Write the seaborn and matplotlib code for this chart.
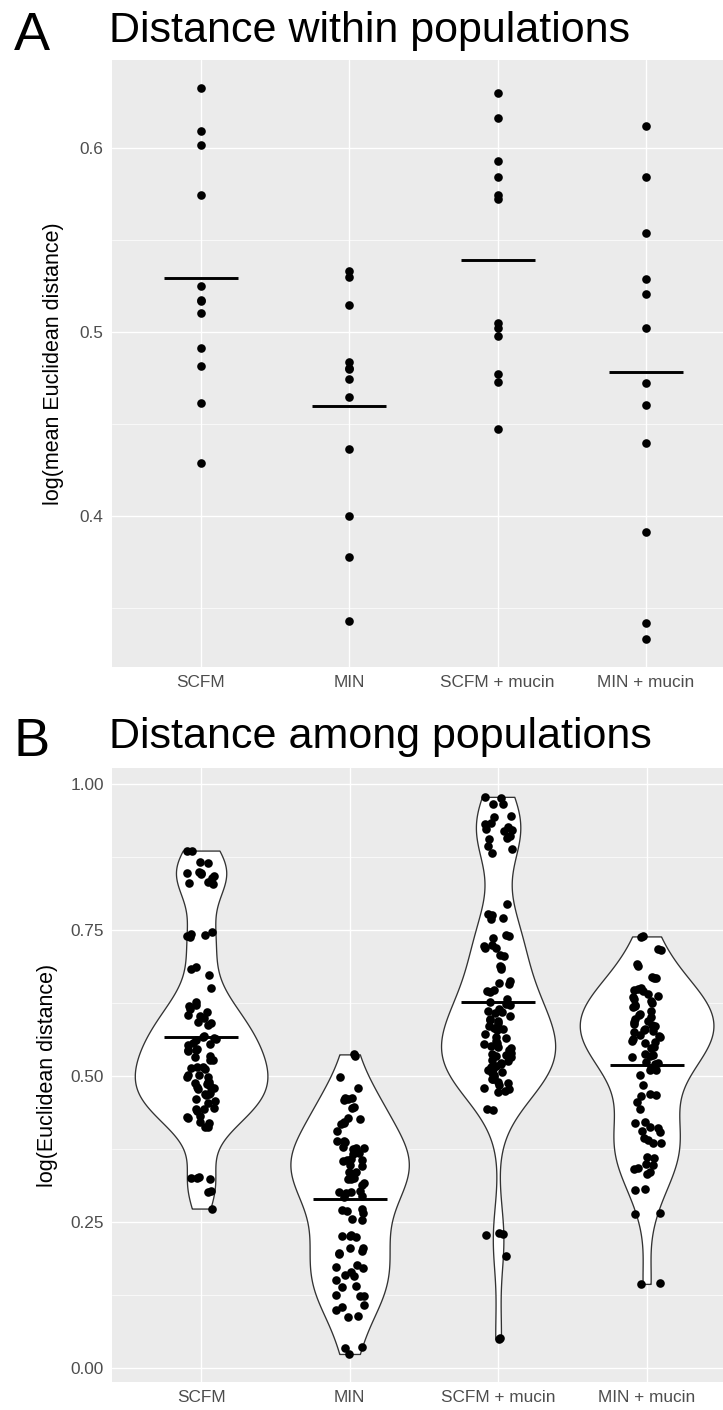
import numpy as np
import pandas as pd
import matplotlib
matplotlib.use("Agg")
import matplotlib.pyplot as plt
from matplotlib.ticker import FixedLocator
import seaborn as sns

# ---- data -------------------------------------------------------------
categories = ["SCFM", "MIN", "SCFM + mucin", "MIN + mucin"]

# log(mean Euclidean distance) within populations, one value per population
within_scfm = [0.6325, 0.6094, 0.6014, 0.5746, 0.5251, 0.5173, 0.5168, 0.5102,
               0.4914, 0.4813, 0.4615, 0.4287]
within_min = [0.5333, 0.5296, 0.5147, 0.4839, 0.4806, 0.4800, 0.4742, 0.4645,
              0.4365, 0.4002, 0.3776, 0.3428]
within_scfm_mucin = [0.6299, 0.6165, 0.5927, 0.5840, 0.5746, 0.5720, 0.5046, 0.5020,
                     0.4978, 0.4773, 0.4728, 0.4474]
within_min_mucin = [0.6122, 0.5840, 0.5538, 0.5286, 0.5204, 0.5020, 0.4721, 0.4601,
                    0.4396, 0.3910, 0.3418, 0.3333]

# log(Euclidean distance) among populations, pairwise
among_scfm = [
    0.886, 0.885, 0.866, 0.865, 0.849, 0.848, 0.847, 0.846, 0.842, 0.839, 0.832, 0.830, 0.829,
    0.746, 0.744, 0.741, 0.739, 0.738, 0.686, 0.684, 0.673, 0.650,
    0.626, 0.622, 0.615, 0.620, 0.610, 0.600, 0.605, 0.602, 0.592, 0.590,
    0.588, 0.568, 0.566, 0.565, 0.563, 0.562, 0.557, 0.555, 0.553, 0.546,
    0.544, 0.545, 0.542, 0.532, 0.535, 0.528, 0.528, 0.515, 0.512, 0.516,
    0.513, 0.502, 0.498, 0.501, 0.499, 0.490, 0.488, 0.486, 0.489, 0.480,
    0.478, 0.481, 0.483, 0.470, 0.468, 0.471, 0.469, 0.458, 0.460, 0.454,
    0.446, 0.443, 0.443, 0.440, 0.432, 0.428, 0.430, 0.420, 0.421, 0.413, 0.412,
    0.327, 0.326, 0.325, 0.324, 0.303, 0.301, 0.273,
]
among_min = [
    0.537, 0.535, 0.499, 0.480, 0.463, 0.460, 0.459, 0.462, 0.447, 0.446,
    0.420, 0.418, 0.426, 0.421, 0.428, 0.406,
    0.389, 0.388, 0.387, 0.377, 0.376, 0.375, 0.378, 0.369, 0.367, 0.368,
    0.358, 0.356, 0.357, 0.355, 0.348, 0.346, 0.336, 0.335, 0.334, 0.325,
    0.323, 0.324, 0.316, 0.314, 0.303, 0.302, 0.301, 0.300, 0.294, 0.292,
    0.272, 0.270, 0.268, 0.266, 0.255, 0.253, 0.227, 0.226, 0.225, 0.226,
    0.205, 0.195, 0.197, 0.201, 0.206, 0.172, 0.160, 0.173, 0.165, 0.177,
    0.158, 0.150, 0.138, 0.140, 0.125, 0.124, 0.123, 0.105, 0.100, 0.108,
    0.089, 0.087, 0.024, 0.036, 0.035,
]
among_scfm_mucin = [
    0.978, 0.976, 0.966, 0.965, 0.946, 0.944, 0.933, 0.931, 0.927, 0.923,
    0.921, 0.919, 0.911, 0.908, 0.905, 0.893, 0.889, 0.882,
    0.795, 0.777, 0.775, 0.771, 0.769, 0.742, 0.740, 0.737, 0.724, 0.722,
    0.720, 0.719, 0.707, 0.705, 0.688, 0.686, 0.683, 0.663, 0.660, 0.657,
    0.647, 0.645, 0.643, 0.632,
    0.626, 0.623, 0.621, 0.615, 0.612, 0.610, 0.608, 0.603, 0.598, 0.596,
    0.594, 0.590, 0.585, 0.582, 0.580, 0.578, 0.572, 0.566, 0.560, 0.557,
    0.555, 0.552, 0.548, 0.545, 0.540, 0.536, 0.534, 0.532, 0.528, 0.522,
    0.520, 0.517, 0.515, 0.512, 0.507, 0.505, 0.502, 0.499, 0.494, 0.488,
    0.485, 0.480, 0.474, 0.472, 0.565, 0.550, 0.538, 0.525, 0.510, 0.495,
    0.490, 0.478,
    0.443, 0.441, 0.231, 0.229, 0.228, 0.191, 0.052, 0.050,
]
among_min_mucin = [
    0.739, 0.738, 0.717, 0.715, 0.691, 0.689, 0.670, 0.668, 0.667, 0.651,
    0.649, 0.647, 0.645, 0.641, 0.637, 0.635, 0.632, 0.628, 0.625, 0.621,
    0.620, 0.618, 0.612, 0.607, 0.605, 0.601, 0.597, 0.595, 0.592, 0.589,
    0.587, 0.585, 0.581, 0.579, 0.577, 0.575, 0.570, 0.568, 0.566, 0.563,
    0.560, 0.558, 0.556, 0.550, 0.548, 0.537, 0.536, 0.535, 0.533, 0.524,
    0.522, 0.520, 0.513, 0.511, 0.510, 0.501, 0.484, 0.469, 0.467, 0.466,
    0.455, 0.443, 0.422, 0.420, 0.413, 0.411, 0.406, 0.404, 0.393, 0.391,
    0.386, 0.385, 0.361, 0.359, 0.350, 0.348, 0.342, 0.340, 0.335, 0.333,
    0.307, 0.305, 0.265, 0.263, 0.145, 0.144,
]

within_vals = [within_scfm, within_min, within_scfm_mucin, within_min_mucin]
among_vals = [among_scfm, among_min, among_scfm_mucin, among_min_mucin]


def long_table(groups):
    df = pd.DataFrame({
        "medium": np.repeat(categories, [len(g) for g in groups]),
        "dist": np.concatenate(groups),
    })
    df["medium"] = pd.Categorical(df["medium"], categories=categories, ordered=True)
    return df


within = long_table(within_vals)
among = long_table(among_vals)


def nrd0(kde):
    """Silverman's rule of thumb (R's bw.nrd0) expressed as a kde factor."""
    x = np.asarray(kde.dataset).ravel()
    sd = np.std(x, ddof=1)
    iqr = np.subtract(*np.percentile(x, [75, 25]))
    lo = min(sd, iqr / 1.34) if iqr > 0 else sd
    return 0.9 * lo * len(x) ** (-0.2) / sd


# ---- style ------------------------------------------------------------
sns.set_theme(style="darkgrid")
plt.rcParams["font.family"] = ["Liberation Sans", "DejaVu Sans"]
plt.rcParams["text.color"] = "black"

W, H = 723, 1410
fig = plt.figure(figsize=(W / 100, H / 100), dpi=100)
fig.patch.set_facecolor("white")

unit = 148.5                     # pixels per category step
ax_a = fig.add_axes([111.5 / W, 1 - 667 / H, 4.2 * unit / W, 607 / H])
ax_b = fig.add_axes([112.0 / W, 1 - 1382 / H, 4.2 * unit / W, 614 / H])

dot_size = 6.2
mean_kws = dict(order=categories, estimator="mean", errorbar=None, color="black",
                marker="_", markersize=53, markeredgewidth=2.1, linestyle="none")

# Panel A: one point per population with the group mean
sns.stripplot(data=within, x="medium", y="dist", order=categories, jitter=False,
              color="black", size=dot_size, linewidth=0, ax=ax_a, zorder=3)
sns.pointplot(data=within, x="medium", y="dist", ax=ax_a, zorder=4, **mean_kws)

# Panel B: violins of pairwise distances, jittered points and group mean
sns.violinplot(data=among, x="medium", y="dist", order=categories, color="white",
               saturation=1, linecolor="#333333", linewidth=0.95, inner=None, cut=0,
               density_norm="area", width=0.9, bw_method=nrd0, gridsize=512, ax=ax_b)
np.random.seed(11)
sns.stripplot(data=among, x="medium", y="dist", order=categories, jitter=0.1,
              color="black", size=dot_size, linewidth=0, ax=ax_b, zorder=3)
sns.pointplot(data=among, x="medium", y="dist", ax=ax_b, zorder=4, **mean_kws)


def style_axes(ax, ylim, major, minor, labels, ylabel, label_x):
    ax.set_facecolor("#EBEBEB")
    for s in ax.spines.values():
        s.set_visible(False)
    ax.set_axisbelow(True)
    ax.set_xlim(-0.6, 3.6)
    ax.set_ylim(*ylim)
    ax.set_xticks(range(len(categories)))
    ax.set_xticklabels(categories)
    ax.set_yticks(major)
    ax.set_yticklabels(labels)
    ax.yaxis.set_minor_locator(FixedLocator(minor))
    ax.grid(True, which="major", color="white", linewidth=1.0)
    ax.xaxis.grid(True, which="major", color="white", linewidth=1.0)
    ax.yaxis.grid(True, which="minor", color="white", linewidth=0.5)
    ax.tick_params(which="major", length=4.3, width=1.0, color="#333333",
                   labelcolor="#4D4D4D", labelsize=12.4, pad=1.6)
    ax.tick_params(which="minor", length=0)
    ax.set_xlabel("")
    ax.set_ylabel(ylabel, fontsize=15.5, color="black", va="center")
    ax.yaxis.set_label_coords(label_x, 0.5)


style_axes(ax_a, (0.3179, 0.6478), [0.4, 0.5, 0.6], [0.35, 0.45, 0.55],
           ["0.4", "0.5", "0.6"], "log(mean Euclidean distance)", (53.5 - 111.5) / (4.2 * unit))
style_axes(ax_b, (-0.024, 1.0274), [0.0, 0.25, 0.5, 0.75, 1.0],
           [0.125, 0.375, 0.625, 0.875],
           ["0.00", "0.25", "0.50", "0.75", "1.00"], "log(Euclidean distance)",
           (48 - 112) / (4.2 * unit))

# Panel letters and titles
fig.text(14 / W, 1 - 50 / H, "A", fontsize=39, va="baseline", ha="left", color="black")
fig.text(109 / W, 1 - 42 / H, "Distance within populations", fontsize=31,
         va="baseline", ha="left", color="black")
fig.text(14 / W, 1 - 756 / H, "B", fontsize=39, va="baseline", ha="left", color="black")
fig.text(109 / W, 1 - 748 / H, "Distance among populations", fontsize=31,
         va="baseline", ha="left", color="black")

fig.savefig("out.png", dpi=100, facecolor="white")
